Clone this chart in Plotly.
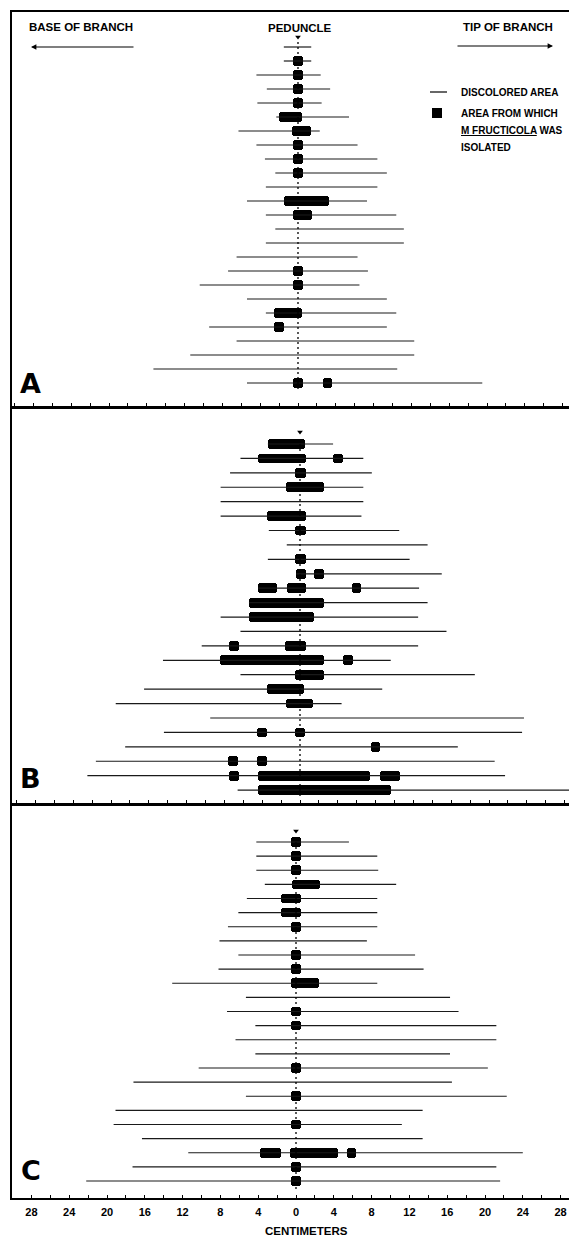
import plotly.graph_objects as go

# ---------------- data (centimetres from the peduncle; negative = toward base) ----------------
ROWS = list(range(1, 26))

A_left = [-1.5, -1.5, -4.4, -3.3, -4.3, -2.3, -6.3, -4.4, -3.5, -2.4, -3.4, -5.4, -3.4,
          -2.4, -3.4, -6.5, -7.4, -10.4, -5.4, -3.4, -9.4, -6.5, -11.4, -15.3, -5.4]
A_right = [1.4, 1.4, 2.4, 3.4, 2.5, 5.4, 2.3, 6.3, 8.4, 9.4, 8.4, 7.3, 10.4,
           11.2, 11.2, 6.3, 7.4, 6.5, 9.4, 10.4, 9.4, 12.3, 12.3, 10.5, 19.5]
A_iso_row = [2, 3, 4, 5, 6, 7, 8, 9, 10, 12, 13, 17, 18, 20, 21, 25, 25]
A_iso_start = [-0.5, -0.5, -0.5, -0.5, -2.0, -0.6, -0.5, -0.5, -0.5, -1.5, -0.5, -0.5, -0.5, -2.5, -2.5, -0.5, 2.6]
A_iso_end = [0.5, 0.5, 0.5, 0.5, 0.4, 1.4, 0.5, 0.5, 0.5, 3.3, 1.5, 0.5, 0.5, 0.4, -1.5, 0.5, 3.6]

B_left = [-3.4, -6.3, -7.4, -8.4, -8.4, -8.4, -3.3, -1.4, -3.4, -0.4, -4.4, -5.4, -8.4,
          -6.3, -10.4, -14.5, -6.3, -16.5, -19.5, -9.5, -14.4, -18.5, -21.6, -22.5, -6.6]
B_right = [3.5, 6.7, 7.6, 6.7, 6.7, 6.5, 10.5, 13.5, 11.6, 15.0, 12.6, 13.5, 12.5,
           15.5, 12.5, 9.6, 18.5, 8.7, 4.4, 23.7, 23.5, 16.7, 20.6, 21.7, 28.7]
B_iso_row = [1, 2, 2, 3, 4, 6, 7, 9, 10, 10, 11, 11, 11, 12, 13, 15, 15, 16, 16, 17, 18, 19,
             21, 21, 22, 23, 23, 24, 24, 24, 25]
B_iso_start = [-3.4, -4.4, 3.5, -0.5, -1.5, -3.5, -0.5, -0.5, -0.4, 1.5, -4.4, -1.4, 5.5, -5.4,
               -5.4, -7.5, -1.6, -8.5, 4.6, -0.5, -3.5, -1.5, -4.5, -0.5, 7.5, -7.6, -4.5,
               -7.5, -4.4, 8.5, -4.4]
B_iso_end = [0.5, 0.6, 4.6, 0.6, 2.5, 0.6, 0.6, 0.6, 0.6, 2.5, -2.4, 0.6, 6.5, 2.5,
             1.5, -6.5, 0.6, 2.5, 5.6, 2.5, 0.4, 1.4, -3.5, 0.5, 8.5, -6.6, -3.5,
             -6.5, 7.4, 10.6, 9.6]

C_left = [-4.2, -4.2, -4.2, -3.3, -5.2, -6.1, -7.2, -8.1, -6.1, -8.2, -13.1, -5.3, -7.3,
          -4.3, -6.4, -4.3, -10.3, -17.2, -5.3, -19.1, -19.3, -16.3, -11.4, -17.3, -22.2]
C_right = [5.6, 8.6, 8.7, 10.6, 8.6, 8.6, 8.6, 7.5, 12.6, 13.5, 8.6, 16.3, 17.2,
           21.2, 21.2, 16.3, 20.3, 16.5, 22.3, 13.4, 11.2, 13.4, 24.0, 21.2, 21.6]
C_iso_row = [1, 2, 3, 4, 5, 6, 7, 9, 10, 11, 13, 14, 17, 19, 21, 23, 23, 23, 24, 25]
C_iso_start = [-0.5, -0.5, -0.5, -0.4, -1.6, -1.6, -0.5, -0.5, -0.5, -0.5, -0.5, -0.5, -0.5,
               -0.5, -0.5, -3.8, -0.6, 5.4, -0.5, -0.5]
C_iso_end = [0.5, 0.5, 0.5, 2.5, 0.5, 0.5, 0.5, 0.5, 0.5, 2.4, 0.5, 0.5, 0.5,
             0.5, 0.5, -1.6, 4.4, 6.4, 0.5, 0.5]

TICK_VALUES = [-30, -28, -26, -24, -22, -20, -18, -16, -14, -12, -10, -8, -6, -4, -2, 0,
               2, 4, 6, 8, 10, 12, 14, 16, 18, 20, 22, 24, 26, 28, 30]
TICK_TEXT = ["", "28", "", "24", "", "20", "", "16", "", "12", "", "8", "", "4", "", "0",
             "", "4", "", "8", "", "12", "", "16", "", "20", "", "24", "", "28", ""]

# ---------------- layout geometry ----------------
W, H = 577, 1238
OFF = 8            # page body margin of the html page
PX_PER_CM = 9.45
X0 = 12            # left frame (page px)


def px_x(p):
    return (p - OFF) / W


def py(p):
    return 1 - (p - OFF) / H


panels = [
    dict(letter="A", left=A_left, right=A_right, ir=A_iso_row, is_=A_iso_start, ie=A_iso_end,
         zero=298, top=12, bottom=406, row1=47, step=14.0, arrow=37, lx=31, ly=383),
    dict(letter="B", left=B_left, right=B_right, ir=B_iso_row, is_=B_iso_start, ie=B_iso_end,
         zero=300, top=409, bottom=803, row1=444, step=14.42, arrow=432, lx=31, ly=778),
    dict(letter="C", left=C_left, right=C_right, ir=C_iso_row, is_=C_iso_start, ie=C_iso_end,
         zero=296, top=806, bottom=1198, row1=842, step=14.125, arrow=831, lx=31, ly=1170),
]

fig = go.Figure()
FONT = "Liberation Sans"

for k, p in enumerate(panels):
    sfx = "" if k == 0 else str(k + 1)
    xa, ya = "x" + sfx, "y" + sfx
    xs, ys = [], []
    for r, l, rt in zip(ROWS, p["left"], p["right"]):
        xs += [l, rt, None]
        ys += [r, r, None]
    fig.add_trace(go.Scatter(x=xs, y=ys, mode="lines", line=dict(color="#1a1a1a", width=1.2),
                             xaxis=xa, yaxis=ya, hoverinfo="skip", showlegend=False))
    fig.add_trace(go.Scatter(x=[0, 0], y=[0.65, 25.6], mode="lines",
                             line=dict(color="black", width=1.3, dash="2px,3px"),
                             xaxis=xa, yaxis=ya, hoverinfo="skip", showlegend=False))
    fig.add_trace(go.Bar(orientation="h", y=p["ir"],
                         x=[e - s for s, e in zip(p["is_"], p["ie"])], base=p["is_"],
                         width=0.68, marker=dict(color="black", line=dict(width=0), cornerradius=3),
                         xaxis=xa, yaxis=ya, hoverinfo="skip", showlegend=False))
    a_idx = 1 + (p["arrow"] - p["row1"]) / p["step"]
    fig.add_trace(go.Scatter(x=[0], y=[a_idx], mode="markers",
                             marker=dict(symbol="triangle-down", size=5, color="black"),
                             xaxis=xa, yaxis=ya, hoverinfo="skip", showlegend=False))

    left_cm = -(p["zero"] - X0) / PX_PER_CM
    right_cm = left_cm + (W - (X0 - OFF)) / PX_PER_CM
    top_idx = 1 + (p["top"] - p["row1"]) / p["step"]
    bot_idx = 1 + (p["bottom"] - p["row1"]) / p["step"]
    fig.update_layout(**{
        "xaxis" + sfx: dict(domain=[px_x(X0), 1], range=[left_cm, right_cm], anchor=ya,
                            showline=True, linecolor="black", linewidth=1.6, mirror=True,
                            ticks="inside", ticklen=3, tickwidth=1.2, tickcolor="black",
                            tickmode="array", tickvals=TICK_VALUES, ticktext=TICK_TEXT,
                            showticklabels=(k == 2), ticklabelstandoff=3,
                            tickfont=dict(family=FONT, size=11, color="black", weight="bold"),
                            showgrid=False, zeroline=False, fixedrange=True),
        "yaxis" + sfx: dict(domain=[py(p["bottom"]), py(p["top"])], range=[bot_idx, top_idx],
                            anchor=xa, showline=True, linecolor="black", linewidth=1.6,
                            showticklabels=False, ticks="", showgrid=False, zeroline=False,
                            fixedrange=True),
    })
    fig.add_annotation(text=p["letter"], x=px_x(p["lx"]), y=py(p["ly"]), xref="paper", yref="paper",
                       showarrow=False, xanchor="center", yanchor="middle",
                       font=dict(family="DejaVu Sans", size=27, color="black", weight="bold"))

# header texts
hdr = dict(family=FONT, size=11.5, color="black", weight="bold")
fig.add_annotation(text="BASE OF BRANCH", x=px_x(27), y=py(27), xref="paper", yref="paper",
                   showarrow=False, xanchor="left", yanchor="middle", font=hdr)
fig.add_annotation(text="PEDUNCLE", x=px_x(300), y=py(28), xref="paper", yref="paper",
                   showarrow=False, xanchor="center", yanchor="middle", font=hdr)
fig.add_annotation(text="TIP OF BRANCH", x=px_x(555), y=py(27), xref="paper", yref="paper",
                   showarrow=False, xanchor="right", yanchor="middle", font=hdr)
fig.add_annotation(text="", x=px_x(31), y=py(47), xref="paper", yref="paper", ax=104, ay=0,
                   showarrow=True, arrowhead=2, arrowsize=0.9, arrowwidth=1.2, arrowcolor="black")
fig.add_annotation(text="", x=px_x(553), y=py(46), xref="paper", yref="paper", ax=-97, ay=0,
                   showarrow=True, arrowhead=2, arrowsize=0.9, arrowwidth=1.2, arrowcolor="black")

# legend
lg = dict(family=FONT, size=10, color="black", weight="bold")
fig.add_shape(type="line", xref="paper", yref="paper", x0=px_x(430), x1=px_x(447), y0=py(92), y1=py(92),
              line=dict(color="black", width=1.2))
fig.add_shape(type="rect", xref="paper", yref="paper", x0=px_x(432), x1=px_x(442), y0=py(118), y1=py(108),
              fillcolor="black", line=dict(width=0))
for txt, yy in [("DISCOLORED AREA", 92), ("AREA FROM WHICH", 113),
                ("<u>M FRUCTICOLA</u> WAS", 130), ("ISOLATED", 147)]:
    fig.add_annotation(text=txt, x=px_x(459), y=py(yy), xref="paper", yref="paper",
                       showarrow=False, xanchor="left", yanchor="middle", font=lg)

fig.add_annotation(text="CENTIMETERS", x=px_x(306), y=py(1231), xref="paper", yref="paper",
                   showarrow=False, xanchor="center", yanchor="middle",
                   font=dict(family=FONT, size=11.5, color="black", weight="bold"))

fig.update_layout(width=W, height=H, margin=dict(l=0, r=0, t=0, b=0),
                  paper_bgcolor="white", plot_bgcolor="white", barmode="overlay",
                  showlegend=False, bargap=0)

fig.write_html("out.html")
